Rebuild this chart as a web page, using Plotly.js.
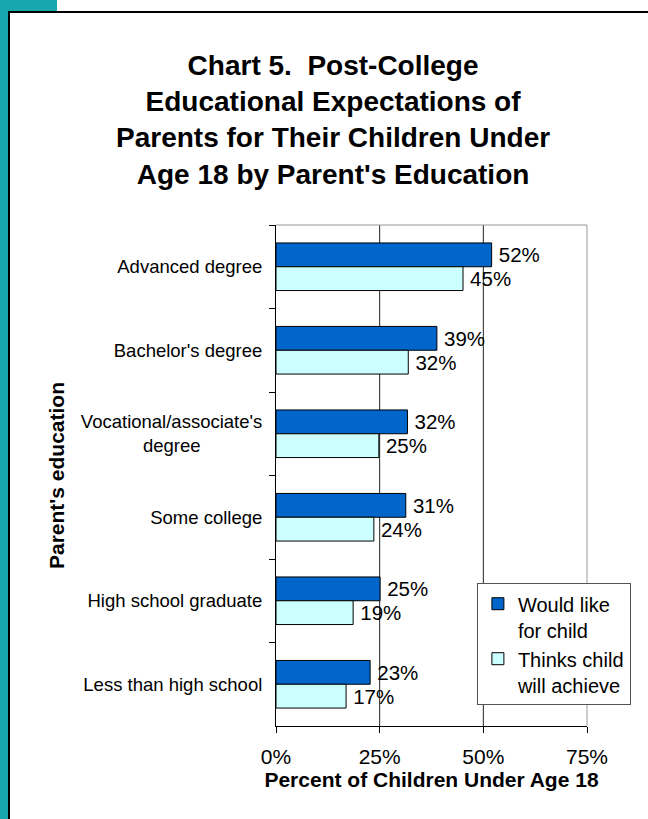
<!DOCTYPE html>
<html>
<head>
<meta charset="utf-8">
<script src="https://cdn.plot.ly/plotly-3.0.1.min.js"></script>
<style>
  html, body { margin: 0; padding: 0; background: #ffffff; }
  #wrap { position: relative; width: 648px; height: 819px; overflow: hidden; background: #ffffff; }
  .teal { position: absolute; background: #17A8AD; }
  .blk { position: absolute; background: #000000; }
  #chart { position: absolute; left: 0; top: 0; width: 648px; height: 819px; }
</style>
</head>
<body>
<div id="wrap">
  <div class="teal" style="left:0;top:0;width:8px;height:819px;"></div>
  <div class="teal" style="left:0;top:0;width:57px;height:11px;"></div>
  <div class="blk" style="left:8px;top:11px;width:2px;height:808px;"></div>
  <div class="blk" style="left:8px;top:11px;width:640px;height:2px;"></div>
  <div id="chart"></div>
</div>
<script>
// ---- data ----
const categories = [
  "Advanced degree",
  "Bachelor's degree",
  "Vocational/associate's<br>degree\u00A0\u00A0\u00A0\u00A0\u00A0\u00A0\u00A0\u00A0\u00A0\u00A0\u00A0\u00A0",
  "Some college",
  "High school graduate",
  "Less than high school"
];
const wouldLike = [52.0, 38.8, 31.7, 31.3, 25.1, 22.7];
const thinksWill = [45.1, 31.9, 24.8, 23.6, 18.6, 16.9];
const seriesNames = ["Would like<br>for child", "Thinks child<br>will achieve"];
const xTicks = [0, 25, 50, 75];
const xTickText = ["0%", "25%", "50%", "75%"];

const FONT = "Arial, 'Liberation Sans', Helvetica, sans-serif";

function makeTrace(name, values, color) {
  return {
    type: "bar", orientation: "h",
    name: name,
    y: categories, x: values,
    marker: { color: color, line: { color: "#000000", width: 1 } },
    texttemplate: "\u2009%{x:.0f}%", textposition: "outside",
    textfont: { family: FONT, size: 20.5, color: "#000000" },
    cliponaxis: false, constraintext: "none",
    hoverinfo: "x+y"
  };
}

const traces = [
  makeTrace(seriesNames[0], wouldLike, "#0066CC"),
  makeTrace(seriesNames[1], thinksWill, "#CCFFFF")
];

const gridShapes = xTicks.slice(1, -1).map(v => ({
  type: "line", xref: "x", yref: "paper", x0: v, x1: v, y0: 0, y1: 1,
  line: { color: "#222222", width: 1 }, layer: "below"
}));

const layout = {
  width: 648, height: 819,
  paper_bgcolor: "rgba(0,0,0,0)",
  plot_bgcolor: "#ffffff",
  margin: { l: 276, r: 61, t: 225, b: 93, pad: 0 },
  font: { family: FONT, color: "#000000" },
  title: {
    text: "Chart 5.\u00A0 Post-College<br>Educational Expectations of<br>Parents for Their Children Under<br>Age 18 by Parent's Education",
    font: { family: FONT, size: 28, color: "#000000", weight: "bold" },
    x: 0.514, xanchor: "center",
    y: 0.909, yanchor: "middle", yref: "container"
  },
  barmode: "group",
  bargap: 0.43,
  bargroupgap: 0,
  xaxis: {
    range: [0, 75],
    tickvals: xTicks, ticktext: xTickText,
    showgrid: false, zeroline: false,
    showline: true, linecolor: "#000000", linewidth: 1,
    ticks: "outside", ticklen: 6, tickcolor: "#000000", tickwidth: 1,
    tickfont: { family: FONT, size: 21, color: "#000000" },
    ticklabelstandoff: 6,
    title: {
      text: "Percent of Children Under Age 18",
      font: { family: FONT, size: 21, color: "#000000", weight: "bold" },
      standoff: 4
    },
    fixedrange: true
  },
  yaxis: {
    type: "category",
    autorange: "reversed",
    automargin: true,
    showgrid: false, zeroline: false,
    showline: true, linecolor: "#000000", linewidth: 1,
    ticks: "outside", tickson: "boundaries", ticklen: 6, tickcolor: "#000000", tickwidth: 1,
    tickfont: { family: FONT, size: 18.5, color: "#000000" },
    ticklabelstandoff: 9,
    title: {
      text: "Parent's education",
      font: { family: FONT, size: 21, color: "#000000", weight: "bold" },
      standoff: 10
    },
    fixedrange: true
  },
  legend: {
    x: 0.646, xanchor: "left",
    y: 0.285, yanchor: "top",
    bgcolor: "#ffffff",
    bordercolor: "#555555", borderwidth: 1,
    font: { family: FONT, size: 20, color: "#000000" },
    valign: "top",
    traceorder: "normal",
    tracegroupgap: 3
  },
  shapes: gridShapes.concat([{
    type: "path", xref: "paper", yref: "paper",
    path: "M0,1 L1,1 L1,0",
    line: { color: "#999999", width: 1 }, layer: "above"
  }]),
  showlegend: true
};

Plotly.newPlot("chart", traces, layout, { displayModeBar: false, staticPlot: true });
</script>
</body>
</html>
